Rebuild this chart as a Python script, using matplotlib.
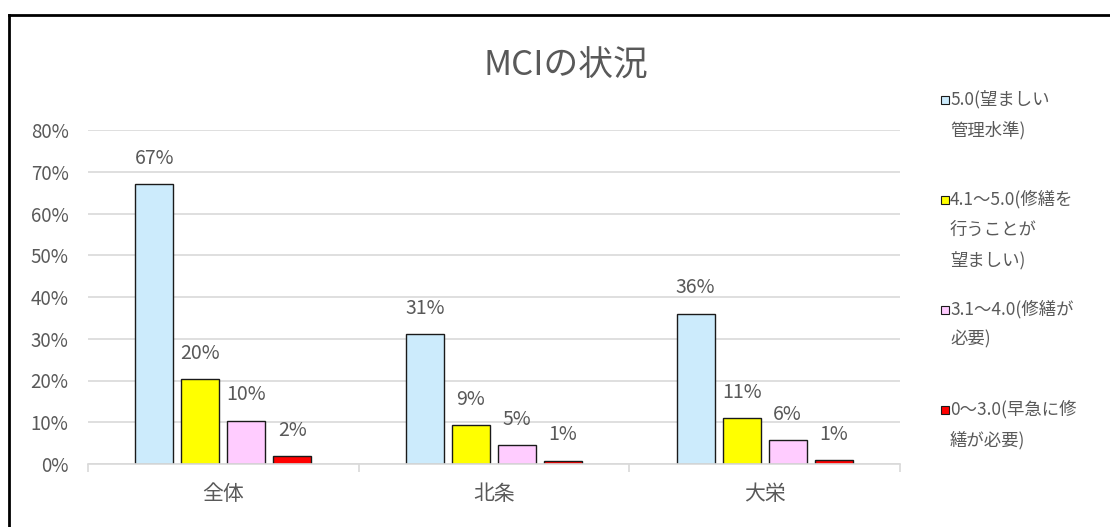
import matplotlib
matplotlib.use("Agg")
import matplotlib.pyplot as plt
from matplotlib.patches import Rectangle
from matplotlib.lines import Line2D
from matplotlib.ticker import FixedLocator, FuncFormatter
import numpy as np

plt.rcParams['font.family'] = ['Noto Sans CJK JP', 'DejaVu Sans']

title = "MCIの状況"
categories = ["全体", "北条", "大栄"]
series_names = [
    "5.0(望ましい\n管理水準)",
    "4.1～5.0(修繕を\n行うことが\n望ましい)",
    "3.1～4.0(修繕が\n必要)",
    "0～3.0(早急に修\n繕が必要)",
]
values = [
    [67.1, 31.1, 36.0],
    [20.4, 9.3, 11.0],
    [10.4, 4.6, 5.8],
    [1.8, 0.8, 0.9],
]
labels = [
    ["67%", "31%", "36%"],
    ["20%", "9%", "11%"],
    ["10%", "5%", "6%"],
    ["2%", "1%", "1%"],
]
colors = ["#CCEBFC", "#FFFF00", "#FFCCFF", "#FF0000"]
yticks = [0, 10, 20, 30, 40, 50, 60, 70, 80]

TXT = "#595959"
GRID = "#D9D9D9"

W, H = 1110, 527
fig = plt.figure(figsize=(W / 100, H / 100), dpi=100)
ax = fig.add_axes([88 / W, 1 - 464 / H, (900 - 88) / W, (464 - 130) / H])

x = np.arange(len(categories))
bw = 0.14
step = 0.17
for i, (vals, labs, c) in enumerate(zip(values, labels, colors)):
    xs = x + (i - 1.5) * step
    bars = ax.bar(xs, vals, width=bw, color=c, edgecolor="#1a1a1a", linewidth=1.0, zorder=3)
    for b, lab in zip(bars, labs):
        ax.annotate(lab, (b.get_x() + b.get_width() / 2, b.get_height()),
                    xytext=(0, 11), textcoords="offset points",
                    ha="center", va="bottom", fontsize=14, color=TXT)

ax.set_xlim(-0.5, 2.5)
ax.set_ylim(0, 80)
ax.yaxis.set_major_locator(FixedLocator(yticks))
ax.yaxis.set_major_formatter(FuncFormatter(lambda v, p: f"{int(v)}%"))
ax.grid(axis="y", color=GRID, linewidth=1.2, zorder=0)
ax.set_axisbelow(True)
for s in ["left", "top", "right"]:
    ax.spines[s].set_visible(False)
ax.spines["bottom"].set_color(GRID)
ax.spines["bottom"].set_linewidth(1.2)
ax.spines["bottom"].set_zorder(4)
ax.tick_params(axis="y", length=0, pad=14, labelsize=13.5, labelcolor=TXT)
ax.set_xticks(x)
ax.set_xticklabels(categories)
ax.tick_params(axis="x", which="major", length=0, pad=14, labelsize=15, labelcolor=TXT)
ax.set_xticks([-0.5, 0.5, 1.5, 2.5], minor=True)
ax.tick_params(axis="x", which="minor", length=6, width=1.2, color=GRID, direction="out")

fig.text(566 / W, 1 - 66 / H, title, ha="center", va="center", fontsize=25, color=TXT)

# legend (manual)
leg_y = [100, 200, 310, 410]
for name, c, yy in zip(series_names, colors, leg_y):
    fig.patches.append(Rectangle((941 / W, 1 - (yy + 4) / H), 8 / W, 8 / H,
                                 transform=fig.transFigure, facecolor=c,
                                 edgecolor="#1a1a1a", linewidth=0.8))
    fig.text(950 / W, 1 - (yy - 10) / H, name, ha="left", va="top",
             fontsize=12.5, color=TXT, linespacing=1.85)

# chart frame lines (top and left)
fig.lines.append(Line2D([9 / W, 1.0], [1 - 15 / H, 1 - 15 / H], transform=fig.transFigure,
                        color="black", linewidth=2))
fig.lines.append(Line2D([9 / W, 9 / W], [0, 1 - 15 / H], transform=fig.transFigure,
                        color="black", linewidth=2))

fig.savefig("out.png", dpi=100)
